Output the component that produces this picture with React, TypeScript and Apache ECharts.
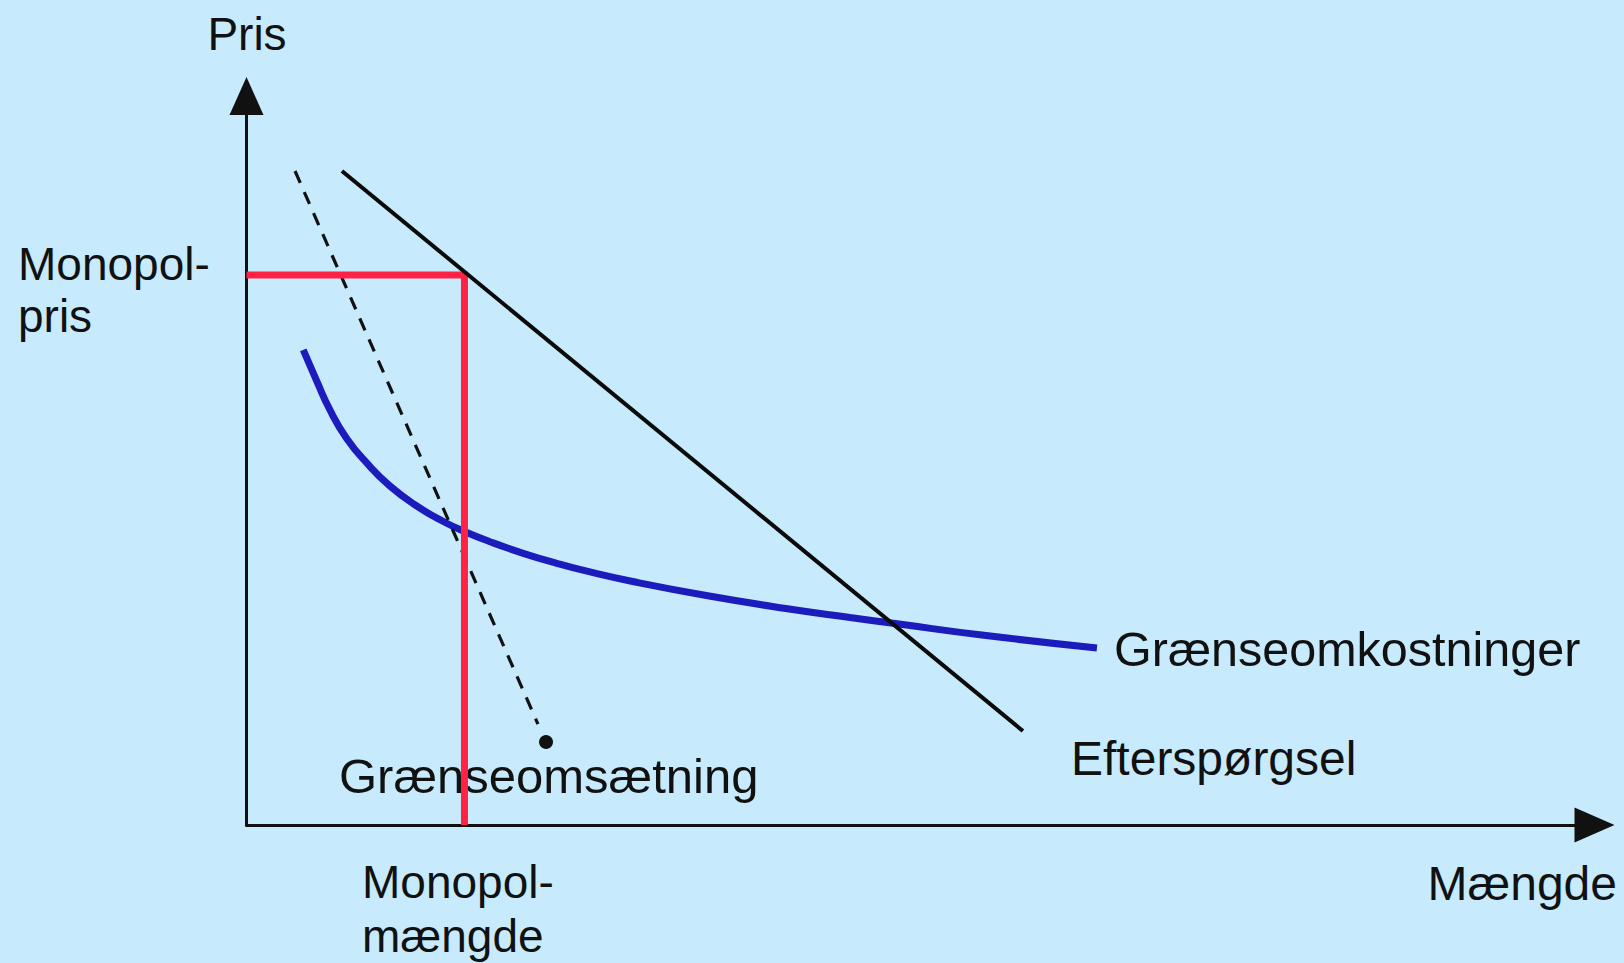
import { useEffect, useRef } from "react";
import * as echarts from "echarts";

// Axis ranges (abstract units of quantity and price)
const quantityMax = 100;
const priceMax = 100;

// Demand (Efterspørgsel): straight line
const demandQ = [7.08, 57.6];
const demandP = [89.71, 12.89];

// Marginal revenue (Grænseomsætning): dashed line ending in a dot
const mrQ = [3.6, 21.62];
const mrP = [89.71, 13.85];
const mrDotQ = 22.22;
const mrDotP = 11.39;

// Marginal cost (Grænseomkostninger): falling curve
const mcQ = [4.21, 5.21, 6.19, 7.43, 8.92, 10.64, 12.63, 14.6, 16.21, 18.06, 20.53, 23.01, 25.48, 28.65, 34.32, 40.01, 44.77, 48.26, 54.71, 63.09];
const mcP = [65.16, 60.91, 56.93, 53.02, 49.66, 46.5, 43.76, 41.63, 40.23, 38.86, 37.27, 35.9, 34.71, 33.4, 31.41, 29.7, 28.46, 27.6, 26.02, 24.28];

// Monopoly optimum
const monopolyQ = 16.17;
const monopolyP = 75.45;

// Text labels (layout kept separately from data)
const labelTexts = [
  "Pris",
  "Monopol-",
  "pris",
  "Grænseomkostninger",
  "Efterspørgsel",
  "Grænseomsætning",
  "Mængde",
  "Monopol-",
  "mængde",
];
const labelLayout = [
  { x: 247, y: 34, align: "center", size: 46 },
  { x: 18, y: 264, align: "left", size: 46 },
  { x: 18, y: 316, align: "left", size: 46 },
  { x: 1114, y: 649, align: "left", size: 48.5 },
  { x: 1071, y: 758, align: "left", size: 48 },
  { x: 339, y: 776, align: "left", size: 49 },
  { x: 1617, y: 883, align: "right", size: 48 },
  { x: 362, y: 882, align: "left", size: 46 },
  { x: 362, y: 936, align: "left", size: 46 },
];

const FONT = "'Liberation Sans', Arial, sans-serif";

export default function App() {
  const ref = useRef<HTMLDivElement>(null);

  useEffect(() => {
    if (!ref.current) return;
    const chart = echarts.init(ref.current, null, { renderer: "svg" });

    const zip = (a: number[], b: number[]) => a.map((v, i) => [v, b[i]]);

    const option: any = {
      animation: false,
      backgroundColor: "#c7ebfd",
      grid: {
        left: 246.5,
        right: 29.5,
        top: 96,
        bottom: 138,
        containLabel: false,
        outerBoundsMode: "none",
      },
      xAxis: {
        type: "value",
        min: 0,
        max: quantityMax,
        axisLine: {
          show: true,
          onZero: false,
          symbol: ["none", "triangle"],
          symbolSize: [35, 40],
          lineStyle: { color: "#111", width: 3 },
        },
        axisTick: { show: false },
        axisLabel: { show: false },
        splitLine: { show: false },
      },
      yAxis: {
        type: "value",
        min: 0,
        max: priceMax,
        axisLine: {
          show: true,
          onZero: false,
          symbol: ["none", "triangle"],
          symbolSize: [34, 38],
          lineStyle: { color: "#111", width: 3 },
        },
        axisTick: { show: false },
        axisLabel: { show: false },
        splitLine: { show: false },
      },
      graphic: labelTexts.map((t, i) => ({
        type: "text",
        z: 1,
        x: labelLayout[i].x,
        y: labelLayout[i].y,
        style: {
          text: t,
          fill: "#111",
          font: `${labelLayout[i].size}px ${FONT}`,
          align: labelLayout[i].align,
          verticalAlign: "middle",
        },
      })),
      series: [
        {
          name: "Grænseomkostninger",
          type: "line",
          data: zip(mcQ, mcP),
          smooth: 0.5,
          showSymbol: false,
          clip: false,
          z: 3,
          lineStyle: { color: "#1c1cbc", width: 7, cap: "butt" },
        },
        {
          name: "Grænseomsætning",
          type: "line",
          data: zip(mrQ, mrP),
          showSymbol: false,
          clip: false,
          z: 3,
          lineStyle: { color: "#111", width: 3.2, type: [13, 10] },
        },
        {
          name: "GrænseomsætningEnd",
          type: "scatter",
          data: [[mrDotQ, mrDotP]],
          symbol: "circle",
          symbolSize: 14,
          z: 3,
          itemStyle: { color: "#111", opacity: 1 },
        },
        {
          name: "Monopol",
          type: "line",
          data: [
            [0, monopolyP],
            [monopolyQ, monopolyP],
            [monopolyQ, 0],
          ],
          showSymbol: false,
          clip: false,
          z: 5,
          lineStyle: { color: "#ff2244", width: 7, join: "miter", cap: "butt" },
        },
        {
          name: "Efterspørgsel",
          type: "line",
          data: zip(demandQ, demandP),
          showSymbol: false,
          clip: false,
          z: 6,
          lineStyle: { color: "#0a0a0a", width: 4 },
        },
      ],
    };

    chart.setOption(option);
    return () => chart.dispose();
  }, []);

  return (
    <div
      ref={ref}
      style={{ position: "absolute", left: 0, top: 0, width: 1624, height: 963 }}
    />
  );
}
